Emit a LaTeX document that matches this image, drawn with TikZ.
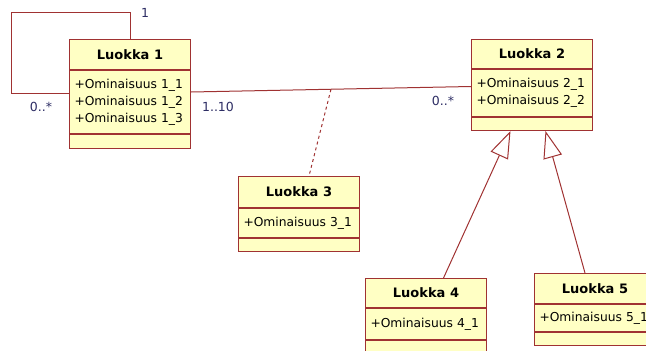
\documentclass[tikz,border=0pt]{standalone}
\usepackage{fontspec}
\setmainfont{DejaVu Sans}
\usetikzlibrary{arrows.meta, calc}

\definecolor{umlred}{RGB}{160,50,50}
\definecolor{umlyellow}{RGB}{255,255,196}
\definecolor{multblue}{RGB}{45,45,100}

\tikzset{
    classhead/.style={draw=umlred, fill=umlyellow, line width=1pt, minimum width=121pt,
        inner sep=0pt, font=\fontsize{13}{17}\selectfont\bfseries},
    classattr/.style={draw=umlred, fill=umlyellow, line width=1pt, text width=111pt,
        inner xsep=5pt, inner ysep=0pt, align=left, font=\fontsize{12.3}{17}\selectfont},
    classops/.style={draw=umlred, fill=umlyellow, line width=1pt, minimum width=121pt,
        inner sep=0pt},
    assoc/.style={draw=umlred, line width=1pt},
    inherit/.style={assoc, -{Triangle[open, length=27pt, width=19pt, fill=white]}},
    mult/.style={text=multblue, font=\fontsize{12.5}{14}\selectfont, inner sep=0pt}
}

% class box: name, corner, title, head height, attribute height, operation height, attributes
\newcommand{\umlclass}[7]{%
    \node[classhead, minimum height=#4, anchor=north west] (#1) at #2 {#3};
    \node[classattr, minimum height=#5, anchor=north] (#1-a) at (#1.south) {#7};
    \node[classops, minimum height=#6, anchor=north] (#1-o) at (#1-a.south) {};
}

\begin{document}
\begin{tikzpicture}[x=1pt, y=-1pt]

    \clip (0,0) rectangle (646,351);

    % the classes
    \umlclass{l1}{(69,39)}{Luokka 1}{30pt}{63pt}{14pt}{+Ominaisuus 1\_1\\+Ominaisuus 1\_2\\+Ominaisuus 1\_3}
    \umlclass{l2}{(471,39)}{Luokka 2}{29pt}{47pt}{13pt}{+Ominaisuus 2\_1\\+Ominaisuus 2\_2}
    \umlclass{l3}{(238,176)}{Luokka 3}{31pt}{29pt}{13pt}{+Ominaisuus 3\_1}
    \umlclass{l4}{(365,278)}{Luokka 4}{29pt}{31pt}{13pt}{+Ominaisuus 4\_1}
    \umlclass{l5}{(534,273)}{Luokka 5}{30pt}{27pt}{13pt}{+Ominaisuus 5\_1}

    % self association of Luokka 1
    \coordinate (loop) at (11,12);
    \draw[assoc] (l1.north) |- (loop) |- ([yshift=8.5pt]l1-a.west);
    \node[mult] (m1) at (145,13) {1};
    \node[mult] (m2) at (41,107) {0..*};

    % association between Luokka 1 and Luokka 2
    \draw[assoc] ([yshift=10pt]l1-a.east) -- coordinate[pos=0.5] (mid) ([yshift=6.5pt]l2-a.west);
    \node[mult] (m3) at (218,107) {1..10};
    \node[mult] (m4) at (443,101) {0..*};

    % association class
    \draw[assoc, dash pattern=on 3pt off 3pt] (mid) -- ([xshift=10pt]l3.north);

    % generalisations
    \draw[inherit] ([xshift=17.5pt]l4.north) -- ([xshift=-21.5pt]l2-o.south);
    \draw[inherit] ([xshift=-10pt]l5.north) -- ([xshift=13.5pt]l2-o.south);

\end{tikzpicture}
\end{document}
